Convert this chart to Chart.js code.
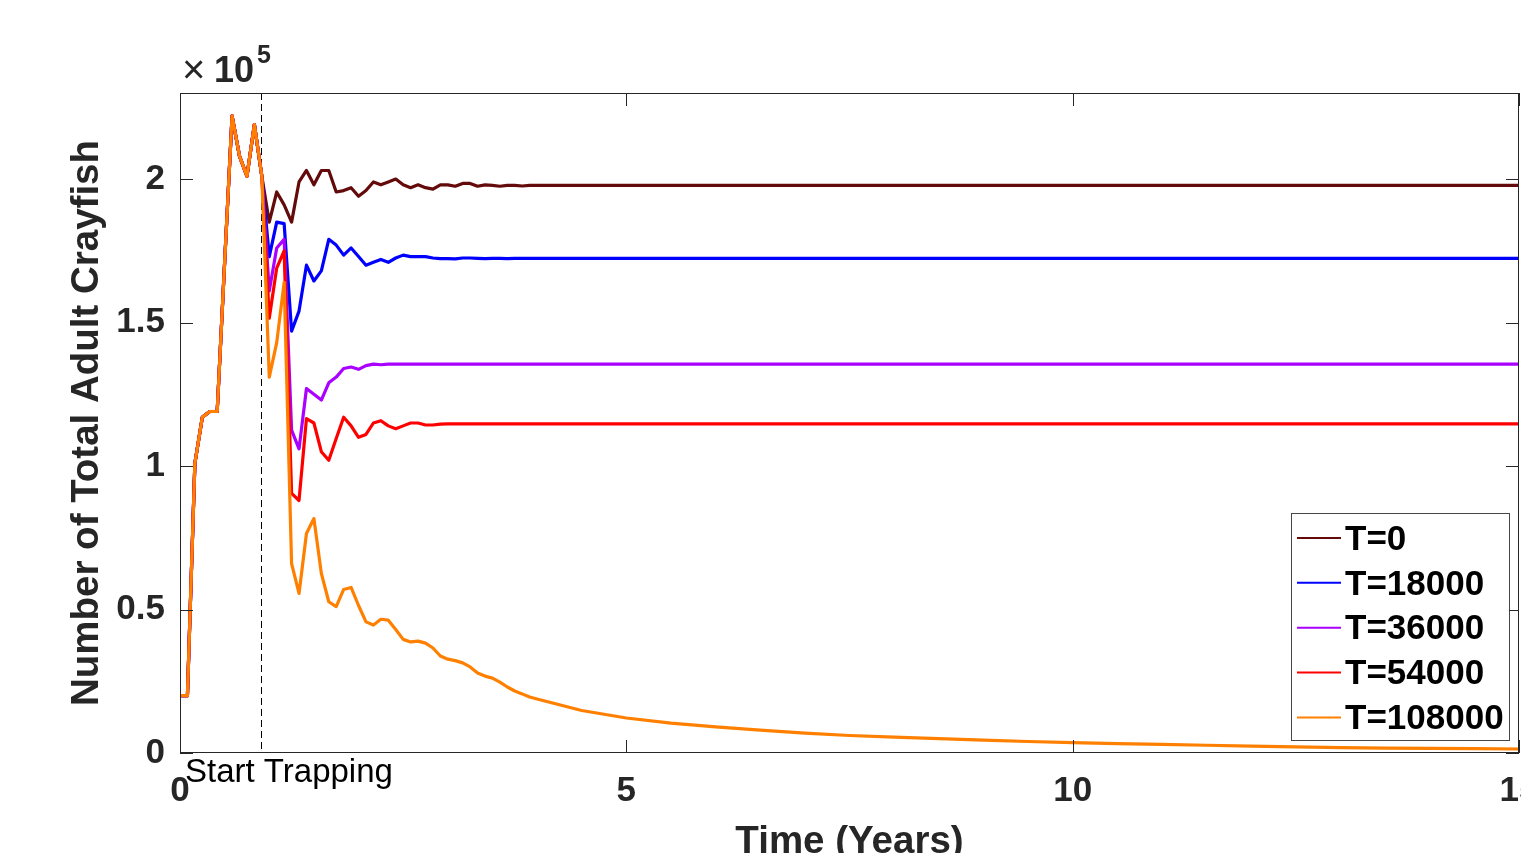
<!DOCTYPE html>
<html>
<head>
<meta charset="utf-8">
<script src="https://cdn.jsdelivr.net/npm/chart.js@4.4.0/dist/chart.umd.min.js"></script>
<style>
  html, body { margin: 0; padding: 0; background: #fff; overflow: hidden; width: 1522px; height: 853px; }
  #frame { width: 1521px; height: 853px; overflow: hidden; }
  canvas { display: block; }
</style>
</head>
<body>
<div id="frame"><canvas id="crayfish" width="1560" height="880"></canvas></div>
<script>
// sample times in months (monthly for the first four years, then every six months)
const months = [
  0, 1, 2, 3, 4, 5, 6, 7, 8, 9, 10, 11,
  12, 13, 14, 15, 16, 17, 18, 19, 20, 21, 22, 23,
  24, 25, 26, 27, 28, 29, 30, 31, 32, 33, 34, 35,
  36, 37, 38, 39, 40, 41, 42, 43, 44, 45, 46, 47, 48,
  54, 60, 66, 72, 78, 84, 90, 96, 102, 108, 114, 120,
  126, 132, 138, 144, 150, 156, 162, 168, 174, 180
];

// all scenarios share the same population before trapping begins
const beforeTrapping = [20000, 20000, 101000, 117000, 119000, 119000, 171000, 222000, 208000, 201000, 219000, 201000];

const trapsNone = [
  185000, 195500, 191000, 185000, 199000, 203000, 198000, 203000, 203000, 195500,
  196000, 197000, 194000, 196000, 199000, 198000, 199000, 200000, 198000, 197000,
  198000, 197000, 196500, 198000, 198000, 197500, 198500, 198500, 197500, 198000,
  197800, 197500, 197800, 197800, 197600, 197800, 197800,
  197800, 197800, 197800, 197800, 197800, 197800, 197800, 197800, 197800, 197800, 197800,
  197800, 197800, 197800, 197800, 197800, 197800, 197800, 197800, 197800, 197800, 197800
];
const traps18000 = [
  173000, 185000, 184500, 147000, 154000, 170000, 164500, 168000, 179000, 177000,
  173500, 176000, 173000, 170000, 171000, 172000, 171000, 172500, 173500, 173000,
  173000, 173000, 172500, 172300, 172300, 172200, 172500, 172500, 172400, 172300,
  172400, 172400, 172300, 172400, 172400, 172400, 172400,
  172400, 172400, 172400, 172400, 172400, 172400, 172400, 172400, 172400, 172400, 172400,
  172400, 172400, 172400, 172400, 172400, 172400, 172400, 172400, 172400, 172400, 172400
];
const traps36000 = [
  161000, 176000, 179000, 112500, 106000, 127000, 125000, 123000, 129000, 131000,
  134000, 134500, 133700, 135000, 135500, 135300, 135500, 135500, 135500, 135500,
  135500, 135500, 135500, 135500, 135500, 135500, 135500, 135500, 135500, 135500,
  135500, 135500, 135500, 135500, 135500, 135500, 135500,
  135500, 135500, 135500, 135500, 135500, 135500, 135500, 135500, 135500, 135500, 135500,
  135500, 135500, 135500, 135500, 135500, 135500, 135500, 135500, 135500, 135500, 135500
];
const traps54000 = [
  151500, 169000, 175000, 90500, 88000, 116500, 115000, 105000, 102000, 109600,
  117000, 114000, 110000, 111000, 115000, 115800, 114000, 113000, 114000, 115000,
  115000, 114300, 114300, 114600, 114700, 114700, 114700, 114700, 114700, 114700,
  114700, 114700, 114700, 114700, 114700, 114700, 114700,
  114700, 114700, 114700, 114700, 114700, 114700, 114700, 114700, 114700, 114700, 114700,
  114700, 114700, 114700, 114700, 114700, 114700, 114700, 114700, 114700, 114700, 114700
];
const traps108000 = [
  131000, 143000, 164000, 66000, 55600, 76500, 81700, 62600, 52700, 51000,
  57000, 57700, 51400, 45700, 44600, 46600, 46300, 43000, 39600, 38700,
  39000, 38300, 36600, 33800, 32700, 32200, 31400, 30000, 27900, 26800,
  26100, 24700, 23000, 21600, 20600, 19500, 18800,
  14800, 12200, 10400, 9100, 8000, 6900, 6100, 5500, 5000, 4500, 4000,
  3600, 3300, 3000, 2700, 2400, 2100, 1900, 1700, 1600, 1500, 1400
];

const seriesLabels = ['T=0', 'T=18000', 'T=36000', 'T=54000', 'T=108000'];
const seriesColors = ['#640a0a', '#0000ff', '#aa00ff', '#ff0000', '#ff8000'];
const seriesValues = [trapsNone, traps18000, traps36000, traps54000, traps108000];

const trapStart = 0.91;   // years
const xTicks = [0, 5, 10, 15];
const yTicks = [0, 50000, 100000, 150000, 200000];
const yMax = 230000;

const FONT = "'Liberation Sans', Arial, Helvetica, sans-serif";
const INK = '#262626';

function toPoints(values) {
  const all = beforeTrapping.concat(values);
  return months.map((m, i) => ({ x: m / 12, y: all[i] }));
}

// later scenarios are drawn on top (lower order = drawn last in Chart.js)
const datasets = seriesLabels.map((label, i) => ({
  label,
  data: toPoints(seriesValues[i]),
  order: seriesLabels.length - i,
  borderColor: seriesColors[i],
  backgroundColor: seriesColors[i],
  borderWidth: 3.2,
  borderJoinStyle: 'round',
  pointRadius: 0,
  tension: 0,
  fill: false
}));

// MATLAB style box with inward ticks, the x10^5 factor, the trapping marker and the legend
const matlabFrame = {
  id: 'matlabFrame',
  beforeDatasetsDraw(chart) {
    const { ctx, chartArea: a, scales: { x } } = chart;
    const px = Math.round(x.getPixelForValue(trapStart)) + 0.5;
    ctx.save();
    ctx.strokeStyle = '#000';
    ctx.lineWidth = 1;
    ctx.setLineDash([7, 4]);
    ctx.beginPath();
    ctx.moveTo(px, a.top);
    ctx.lineTo(px, a.bottom);
    ctx.stroke();
    ctx.restore();
  },
  afterDraw(chart) {
    const { ctx, chartArea: a, scales: { x, y } } = chart;
    const tick = 13;
    ctx.save();
    ctx.strokeStyle = INK;
    ctx.lineWidth = 1;
    ctx.strokeRect(a.left + 0.5, a.top + 0.5, a.right - a.left - 1, a.bottom - a.top - 1);
    ctx.beginPath();
    x.ticks.forEach(t => {
      const px = Math.round(x.getPixelForValue(t.value)) + 0.5;
      ctx.moveTo(px, a.bottom); ctx.lineTo(px, a.bottom - tick);
      ctx.moveTo(px, a.top); ctx.lineTo(px, a.top + tick);
    });
    y.ticks.forEach(t => {
      const py = Math.round(y.getPixelForValue(t.value)) + 0.5;
      ctx.moveTo(a.left, py); ctx.lineTo(a.left + tick, py);
      ctx.moveTo(a.right, py); ctx.lineTo(a.right - tick, py);
    });
    ctx.stroke();

    // exponent above the y axis
    ctx.fillStyle = INK;
    ctx.textBaseline = 'alphabetic';
    ctx.textAlign = 'left';
    ctx.font = '40px ' + FONT;
    ctx.fillText('\u00d7', a.left + 2, a.top - 10);
    ctx.font = 'bold 36px ' + FONT;
    ctx.fillText('10', a.left + 34, a.top - 11);
    ctx.font = 'bold 25px ' + FONT;
    ctx.fillText('5', a.left + 77, a.top - 30);

    // trapping annotation
    ctx.fillStyle = '#000';
    ctx.font = '33px ' + FONT;
    ctx.fillText('Start Trapping', a.left + 5, a.bottom + 29);

    // legend
    const bx = a.right - 228, by = a.bottom - 240, bw = 218, bh = 227;
    ctx.fillStyle = '#fff';
    ctx.fillRect(bx, by, bw, bh);
    ctx.strokeStyle = 'rgba(38,38,38,0.85)';
    ctx.strokeRect(bx + 0.5, by + 0.5, bw, bh);
    ctx.font = 'bold 35px ' + FONT;
    ctx.textBaseline = 'middle';
    chart.data.datasets.forEach((ds, i) => {
      const ry = by + 25 + i * 44.85;
      ctx.strokeStyle = ds.borderColor;
      ctx.lineWidth = 2;
      ctx.beginPath();
      ctx.moveTo(bx + 6, ry);
      ctx.lineTo(bx + 50, ry);
      ctx.stroke();
      ctx.fillStyle = '#000';
      ctx.fillText(ds.label, bx + 54, ry + 2);
    });
    ctx.restore();
  }
};

new Chart(document.getElementById('crayfish'), {
  type: 'line',
  data: { datasets },
  options: {
    responsive: false,
    animation: false,
    devicePixelRatio: 1,
    layout: { padding: { left: 0, top: 93, right: 41, bottom: 0 } },
    plugins: { legend: { display: false }, tooltip: { enabled: false } },
    scales: {
      x: {
        type: 'linear',
        min: 0,
        max: 15,
        afterFit(scale) { scale.height = 127; },
        afterBuildTicks(scale) { scale.ticks = xTicks.map(v => ({ value: v })); },
        grid: { display: false, drawTicks: false },
        border: { display: false },
        ticks: {
          padding: 17,
          maxRotation: 0,
          color: INK,
          font: { family: FONT, size: 35, weight: 'bold' },
          callback: v => String(v)
        },
        title: {
          display: true,
          text: 'Time (Years)',
          color: INK,
          font: { family: FONT, size: 38.5, weight: 'bold' },
          padding: { top: 0, bottom: 15 }
        }
      },
      y: {
        type: 'linear',
        min: 0,
        max: yMax,
        afterFit(scale) { scale.width = 180; },
        afterBuildTicks(scale) { scale.ticks = yTicks.map(v => ({ value: v })); },
        grid: { display: false, drawTicks: false },
        border: { display: false },
        ticks: {
          padding: 15,
          color: INK,
          font: { family: FONT, size: 35, weight: 'bold' },
          callback: v => String(v / 100000)
        },
        title: {
          display: true,
          text: 'Number of Total Adult Crayfish',
          color: INK,
          font: { family: FONT, size: 38.5, weight: 'bold' },
          padding: { top: 64, bottom: 0 }
        }
      }
    }
  },
  plugins: [matlabFrame]
});
</script>
</body>
</html>
